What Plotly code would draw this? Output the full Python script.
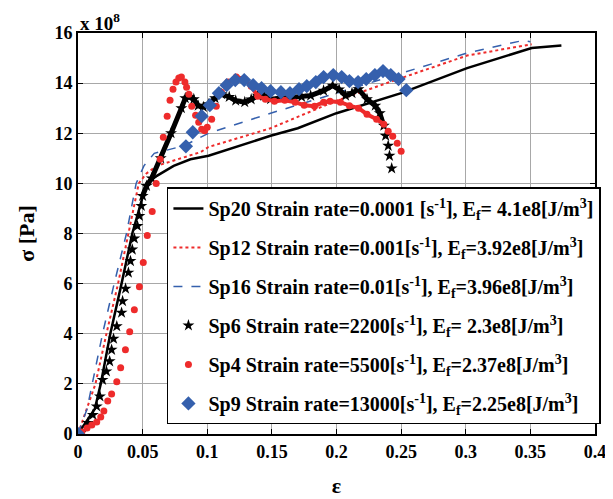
import plotly.graph_objects as go

# quasi-static tests (lines)
sp20_x = [0, 0.013, 0.0176, 0.025, 0.0337, 0.042, 0.053, 0.061, 0.074, 0.087, 0.101, 0.149, 0.17, 0.2, 0.25, 0.301, 0.351, 0.374]
sp20_y = [0, 1.0, 2.0, 4.0, 6.0, 8.0, 10.0, 10.3, 10.7, 10.96, 11.1, 11.9, 12.2, 12.8, 13.6, 14.6, 15.4, 15.5]

sp12_x = [0, 0.0135, 0.022, 0.031, 0.039, 0.047, 0.053, 0.061, 0.095, 0.101, 0.149, 0.2, 0.25, 0.301, 0.351]
sp12_y = [0, 2.0, 4.0, 6.0, 8.0, 10.0, 10.4, 10.7, 11.25, 11.45, 12.2, 13.3, 14.2, 15.1, 15.55]

sp16_x = [0, 0.007, 0.011, 0.019, 0.028, 0.0375, 0.045, 0.051, 0.059, 0.082, 0.101, 0.149, 0.2, 0.25, 0.301, 0.344, 0.35]
sp16_y = [0, 1.0, 2.0, 4.0, 6.0, 8.0, 10.0, 10.7, 11.2, 11.5, 12.0, 12.8, 13.6, 14.4, 15.2, 15.7, 15.65]

# dynamic tests (markers)
sp6_x = [0, 0.003, 0.0077, 0.0115, 0.0145, 0.017, 0.019, 0.022, 0.0245, 0.026, 0.0275, 0.03, 0.0337, 0.0345,
         0.0368, 0.039, 0.0406, 0.042, 0.0436, 0.046, 0.0475, 0.049, 0.05,
         0.053, 0.057, 0.064, 0.072, 0.08, 0.083, 0.086, 0.0896, 0.093, 0.097, 0.101, 0.106, 0.111, 0.117,
         0.122, 0.129, 0.134, 0.139, 0.144, 0.149, 0.157, 0.165, 0.173, 0.18, 0.19, 0.197, 0.202, 0.207,
         0.212, 0.217, 0.2236, 0.23, 0.2335, 0.2366,
         0.238, 0.24, 0.241, 0.2427]
sp6_y = [0, 0.08, 0.44, 0.76, 1.1, 1.5, 2.16, 2.5, 2.9, 3.36, 3.8, 4.3, 4.84, 5.3,
         5.8, 6.44, 6.9, 7.36, 7.8, 8.3, 8.7, 9.1, 9.5,
         9.9, 10.2, 11.0, 12.0, 13.0, 13.4, 13.45, 13.36, 13.1, 13.05, 13.16, 13.4, 13.56, 13.45,
         13.3, 13.24, 13.35, 13.5, 13.5, 13.36, 13.4, 13.44, 13.45, 13.5, 13.7, 13.9, 13.75, 13.5,
         13.6, 13.76, 13.36, 13.1, 12.8, 12.3,
         11.9, 11.5, 11.1, 10.6]
sp6_dense = (22, 57)

sp4_x = [0, 0.003, 0.007, 0.0107, 0.0145, 0.0176, 0.02, 0.023, 0.026, 0.03, 0.033, 0.0367, 0.04, 0.0436,
         0.0475, 0.0505, 0.0536, 0.0574, 0.0605, 0.0636, 0.066, 0.069, 0.0712, 0.0735, 0.0758, 0.078, 0.08,
         0.0827, 0.084, 0.0858, 0.088, 0.091, 0.0934, 0.0957, 0.098, 0.1, 0.1034, 0.107, 0.111,
         0.116, 0.1225, 0.129, 0.134, 0.139, 0.145, 0.152, 0.16, 0.168, 0.175, 0.183, 0.19, 0.195, 0.203,
         0.21, 0.217, 0.2236, 0.231, 0.2366,
         0.24, 0.2435, 0.247, 0.25]
sp4_y = [0, 0.08, 0.24, 0.36, 0.48, 0.68, 0.92, 1.32, 1.6, 2.08, 2.64, 3.36, 4.08, 4.96,
         5.88, 6.84, 7.92, 8.88, 10.0, 10.96, 11.84, 12.68, 13.32, 13.76, 14.04, 14.2, 14.24,
         14.04, 13.84, 13.56, 13.08, 12.72, 12.44, 12.16, 12.1, 12.24, 12.56, 13.08, 13.64,
         14.04, 14.24, 14.16, 13.88, 13.48, 13.36, 13.28, 13.32, 13.24, 13.12, 13.08, 13.24, 13.28, 13.24,
         13.1, 13.0, 12.76, 12.56, 12.36,
         12.08, 11.88, 11.6, 11.28]
sp4_dense = (39, 58)

sp9_x = [0, 0.0835, 0.0888, 0.0957, 0.102, 0.109, 0.115, 0.1217, 0.1286, 0.1355, 0.142, 0.149, 0.157,
         0.164, 0.171, 0.177, 0.184, 0.19, 0.1975, 0.204, 0.21, 0.2167, 0.223, 0.2297, 0.236, 0.242, 0.248, 0.254]
sp9_y = [0, 11.48, 12.04, 12.68, 13.12, 13.6, 13.92, 14.12, 14.12, 13.92, 13.8, 13.68, 13.64,
         13.6, 13.76, 13.88, 14.04, 14.24, 14.32, 14.24, 14.08, 14.04, 14.16, 14.32, 14.48, 14.32, 14.16, 13.72]

x_ticks = [0, 0.05, 0.1, 0.15, 0.2, 0.25, 0.3, 0.35, 0.4]
x_labels = ["0", "0.05", "0.1", "0.15", "0.2", "0.25", "0.3", "0.35", "0.4"]
y_ticks = [0, 2, 4, 6, 8, 10, 12, 14, 16]

RED = "#ee2b2b"
BLUE = "#3560ad"
FONT = "Liberation Serif"

fig = go.Figure()

fig.add_trace(go.Scatter(x=sp20_x, y=sp20_y, mode="lines", legendgroup="a",
                         name="Sp20 Strain rate=0.0001 [s<sup>-1</sup>], E<sub>f</sub>= 4.1e8[J/m<sup>3</sup>]",
                         line=dict(color="black", width=2.5)))
fig.add_trace(go.Scatter(x=sp12_x, y=sp12_y, mode="lines", legendgroup="b",
                         name="Sp12 Strain rate=0.001[s<sup>-1</sup>], E<sub>f</sub>=3.92e8[J/m<sup>3</sup>]",
                         line=dict(color=RED, width=2, dash="dot")))
fig.add_trace(go.Scatter(x=sp16_x, y=sp16_y, mode="lines", legendgroup="c",
                         name="Sp16 Strain rate=0.01[s<sup>-1</sup>], E<sub>f</sub>=3.96e8[J/m<sup>3</sup>]",
                         line=dict(color=BLUE, width=1.5, dash="dash")))

# dense parts of the dynamic records look like thick bands
a, b = sp6_dense
fig.add_trace(go.Scatter(x=sp6_x[a:b], y=sp6_y[a:b], mode="lines", legendgroup="d", showlegend=False,
                         line=dict(color="black", width=5)))
fig.add_trace(go.Scatter(x=sp6_x, y=sp6_y, mode="markers", legendgroup="d",
                         name="Sp6 Strain rate=2200[s<sup>-1</sup>], E<sub>f</sub>= 2.3e8[J/m<sup>3</sup>]",
                         marker=dict(symbol="star", size=9, color="black")))
a, b = sp4_dense
fig.add_trace(go.Scatter(x=sp4_x[a:b], y=sp4_y[a:b], mode="lines", legendgroup="e", showlegend=False,
                         line=dict(color=RED, width=4)))
fig.add_trace(go.Scatter(x=sp4_x, y=sp4_y, mode="markers", legendgroup="e",
                         name="Sp4 Strain rate=5500[s<sup>-1</sup>], E<sub>f</sub>=2.37e8[J/m<sup>3</sup>]",
                         marker=dict(symbol="circle", size=7, color=RED)))
fig.add_trace(go.Scatter(x=sp9_x, y=sp9_y, mode="markers", legendgroup="f",
                         name="Sp9 Strain rate=13000[s<sup>-1</sup>], E<sub>f</sub>=2.25e8[J/m<sup>3</sup>]",
                         marker=dict(symbol="diamond", size=11, color=BLUE)))

axis_common = dict(showgrid=True, gridcolor="#a8a8a8", gridwidth=1, zeroline=False,
                   showline=True, linecolor="black", linewidth=2, mirror="ticks",
                   ticks="inside", ticklen=5, tickcolor="black", automargin=False,
                   tickfont=dict(family=FONT, size=18, color="black", weight="bold"))

fig.update_xaxes(range=[0, 0.4], tickvals=x_ticks, ticktext=x_labels,
                 title=dict(text="ε", font=dict(family=FONT, size=22, color="black", weight="bold"), standoff=17),
                 **axis_common)
fig.update_yaxes(range=[0, 16], tickvals=y_ticks,
                 title=dict(text="σ [Pa]", font=dict(family=FONT, size=22, color="black", weight="bold"), standoff=14),
                 **axis_common)

fig.add_annotation(text="x 10<sup>8</sup>", xref="paper", yref="paper", x=0.0, y=1.0,
                   xanchor="left", yanchor="bottom", showarrow=False, yshift=-3,
                   font=dict(family=FONT, size=19, color="black", weight="bold"))

# page body adds an 8px margin, so the figure is a bit smaller than the window
fig.update_layout(
    width=605, height=491,
    margin=dict(l=70, r=13, t=25, b=65),
    plot_bgcolor="white", paper_bgcolor="white",
    legend=dict(x=0.172, y=0.615, xanchor="left", yanchor="top",
                bgcolor="white", bordercolor="black", borderwidth=1.5,
                traceorder="grouped", tracegroupgap=10,
                font=dict(family=FONT, size=20, color="black", weight="bold")),
)

fig.write_html("out.html")
